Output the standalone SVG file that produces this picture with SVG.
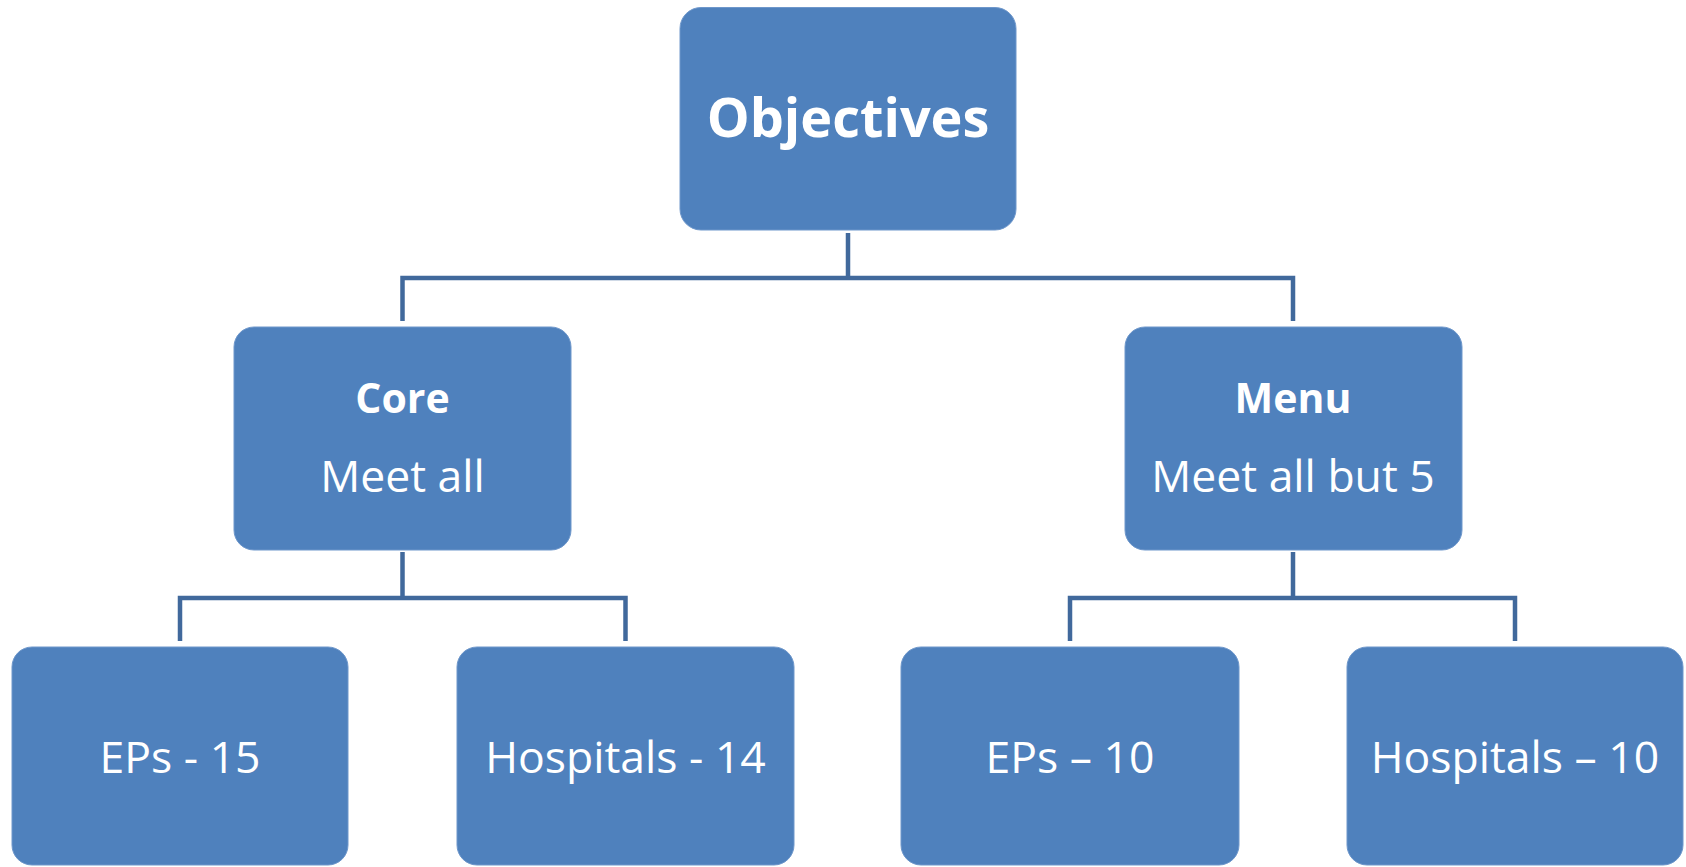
<svg xmlns="http://www.w3.org/2000/svg" width="1686" height="867" viewBox="0 0 1686 867">
<style>
.box{fill:#4F81BD;stroke:#6E97CB;stroke-width:1}
.t{font-family:"Open Sans","Liberation Sans",sans-serif;fill:#FFFFFF;text-anchor:middle}
.b{font-weight:bold}
.conn{fill:none;stroke:#41699C;stroke-width:4.5;stroke-linejoin:miter}
</style>
<rect width="1686" height="867" fill="#FFFFFF"/>
<g id="connectors" class="conn">
<path d="M848,233 V278 M402.5,321 V278 H1293 V321"/>
<path d="M402.5,552 V598 M180,641 V598 H625.5 V641"/>
<path d="M1293,552 V598 M1070,641 V598 H1515 V641"/>
</g>
<g id="objectives">
<rect class="box" x="680" y="7.5" width="336" height="222.5" rx="21"/>
<text class="t b" x="848" y="137" font-size="54">Objectives</text>
</g>
<g id="core">
<rect class="box" x="234" y="327" width="337" height="223" rx="20"/>
<text class="t b" x="402.5" y="413" font-size="41">Core</text>
<text class="t" x="402.5" y="492" font-size="44.5">Meet all</text>
</g>
<g id="menu">
<rect class="box" x="1125" y="327" width="337" height="223" rx="20"/>
<text class="t b" x="1293" y="413" font-size="41">Menu</text>
<text class="t" x="1293" y="492" font-size="44.5">Meet all but 5</text>
</g>
<g id="eps15">
<rect class="box" x="12" y="647" width="336" height="218" rx="20"/>
<text class="t" x="180" y="773" font-size="44.5">EPs - 15</text>
</g>
<g id="hosp14">
<rect class="box" x="457" y="647" width="337" height="218" rx="20"/>
<text class="t" x="625.5" y="773" font-size="44.5">Hospitals - 14</text>
</g>
<g id="eps10">
<rect class="box" x="901" y="647" width="338" height="218" rx="20"/>
<text class="t" x="1070" y="773" font-size="44.5">EPs – 10</text>
</g>
<g id="hosp10">
<rect class="box" x="1347" y="647" width="336" height="218" rx="20"/>
<text class="t" x="1515" y="773" font-size="44.5">Hospitals – 10</text>
</g>
</svg>
